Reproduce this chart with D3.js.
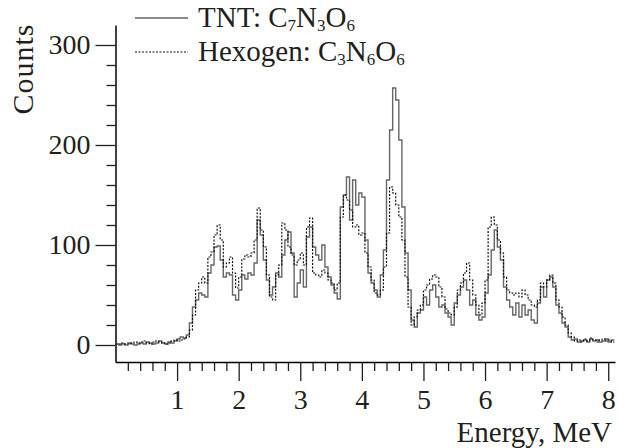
<!DOCTYPE html>
<html>
<head>
<meta charset="utf-8">
<script src="https://cdn.jsdelivr.net/npm/d3@7"></script>
<style>
  body { margin: 0; background: #fff; }
  text { font-family: "Liberation Serif", "Times New Roman", serif; fill: #231f20; }
</style>
</head>
<body>
<div id="chart"></div>
<script>
// histogram bins, 0.05 MeV wide, starting at 0 MeV
let binWidth = 0.05;

// TNT counts per bin
let tntCounts = [
  1, 0, 1, 0, 2, 1, 0, 1, 2, 1, 3, 2, 1, 2, 4, 2, 1, 3, 2, 4,
  6, 8, 7, 10, 22, 38, 45, 52, 50, 48, 72, 80, 98, 99, 85, 68, 72, 70, 50, 45,
  55, 70, 66, 72, 70, 82, 125, 110, 85, 65, 50, 58, 72, 68, 90, 105, 113, 92, 48, 62,
  75, 58, 108, 118, 98, 90, 85, 100, 78, 68, 60, 52, 46, 138, 150, 168, 125, 165, 140, 152,
  148, 105, 72, 62, 55, 48, 70, 95, 165, 215, 257, 245, 205, 138, 92, 55, 25, 18, 32, 35,
  48, 40, 55, 60, 48, 38, 40, 32, 28, 20, 42, 50, 58, 65, 55, 40, 45, 30, 25, 28,
  52, 70, 95, 115, 98, 85, 58, 45, 38, 30, 42, 28, 40, 30, 35, 25, 22, 42, 58, 48,
  65, 68, 58, 40, 32, 22, 18, 8, 5, 6, 3, 4, 5, 3, 6, 4, 5, 3, 4, 6,
  3, 5
];

// Hexogen counts per bin
let hexCounts = [
  1, 1, 2, 1, 1, 2, 3, 2, 3, 4, 2, 1, 3, 4, 3, 2, 1, 2, 4, 5,
  4, 5, 6, 8, 15, 30, 55, 62, 68, 62, 88, 93, 110, 120, 105, 78, 82, 88, 72, 57,
  68, 86, 90, 88, 92, 105, 137, 115, 98, 70, 48, 45, 70, 80, 122, 115, 98, 90, 80, 85,
  92, 80, 118, 127, 72, 70, 68, 75, 72, 65, 62, 55, 62, 128, 150, 145, 135, 118, 120, 110,
  112, 92, 78, 65, 52, 50, 55, 78, 112, 158, 152, 140, 128, 105, 68, 38, 20, 28, 35, 40,
  55, 60, 66, 70, 68, 58, 48, 36, 32, 30, 38, 55, 62, 72, 82, 65, 50, 40, 30, 42,
  65, 118, 128, 120, 105, 92, 68, 55, 52, 50, 52, 48, 55, 50, 45, 40, 38, 45, 62, 58,
  65, 70, 62, 45, 38, 28, 20, 12, 8, 4, 5, 3, 6, 4, 7, 5, 3, 5, 6, 4,
  5, 3
];

let xMajorTicks = [1, 2, 3, 4, 5, 6, 7, 8];
let yMajorTicks = [0, 100, 200, 300];

let width = 618;
let height = 448;

let svg = d3.select("#chart")
    .append("svg")
    .attr("width", width)
    .attr("height", height);

let x = d3.scaleLinear()
    .domain([0, 8.11])
    .range([115.5, 615]);

let y = d3.scaleLinear()
    .domain([-17, 320])
    .range([362, 25]);

// x axis: minor ticks every 0.2, major every 1
let xMinor = d3.range(1, 41).map(function (i) { return i * 0.2; })
    .filter(function (v) { return Math.abs(v - Math.round(v)) > 1e-6; });

svg.append("g")
    .attr("transform", "translate(0," + y(-17) + ")")
    .call(d3.axisBottom(x).tickValues(xMinor).tickSize(9).tickFormat(""))
    .call(function (g) { g.select(".domain").remove(); });

svg.append("g")
    .attr("transform", "translate(0," + y(-17) + ")")
    .call(d3.axisBottom(x).tickValues(xMajorTicks).tickSize(19).tickSizeOuter(0).tickPadding(8))
    .call(function (g) {
        g.select(".domain").attr("stroke-width", 1.5);
        g.selectAll("text").attr("font-size", 28).attr("fill", "#231f20");
    });

// y axis: minor ticks every 20, major every 100
let yMinor = d3.range(1, 15).map(function (i) { return i * 20; })
    .filter(function (v) { return v % 100 !== 0; });

svg.append("g")
    .attr("transform", "translate(" + x(0) + ",0)")
    .call(d3.axisLeft(y).tickValues(yMinor).tickSize(9).tickFormat(""))
    .call(function (g) { g.select(".domain").remove(); });

svg.append("g")
    .attr("transform", "translate(" + x(0) + ",0)")
    .call(d3.axisLeft(y).tickValues(yMajorTicks).tickSize(20).tickSizeOuter(0).tickPadding(5))
    .call(function (g) {
        g.select(".domain").attr("stroke-width", 1.5);
        g.selectAll("text").attr("font-size", 28).attr("fill", "#231f20");
    });

svg.selectAll(".tick line").attr("stroke", "#231f20").attr("stroke-width", 1.3);

// step lines
function stepPoints(counts) {
    let pts = counts.map(function (c, i) { return [i * binWidth, c]; });
    pts.push([counts.length * binWidth, counts[counts.length - 1]]);
    return pts;
}

let line = d3.line()
    .x(function (d) { return x(d[0]); })
    .y(function (d) { return y(d[1]); })
    .curve(d3.curveStepAfter);

svg.append("path")
    .attr("d", line(stepPoints(tntCounts)))
    .attr("fill", "none")
    .attr("stroke", "#666")
    .attr("stroke-width", 1.4);

svg.append("path")
    .attr("d", line(stepPoints(hexCounts)))
    .attr("fill", "none")
    .attr("stroke", "#111")
    .attr("stroke-width", 1.2)
    .attr("stroke-dasharray", "2,1.5");

// axis titles
svg.append("text")
    .attr("transform", "translate(33,69) rotate(-90)")
    .attr("text-anchor", "middle")
    .attr("font-size", 30)
    .attr("letter-spacing", 1)
    .text("Counts");

svg.append("text")
    .attr("x", 612)
    .attr("y", 442)
    .attr("text-anchor", "end")
    .attr("font-size", 29)
    .text("Energy, MeV");

// legend
let legendItems = [
    { parts: [["TNT: C", 0], ["7", 1], ["N", 0], ["3", 1], ["O", 0], ["6", 1]], dash: null, color: "#666", w: 1.4 },
    { parts: [["Hexogen: C", 0], ["3", 1], ["N", 0], ["6", 1], ["O", 0], ["6", 1]], dash: "2,1.5", color: "#111", w: 1.2 }
];

legendItems.forEach(function (item, i) {
    let ly = 18 + i * 34;
    svg.append("line")
        .attr("x1", 135).attr("x2", 188)
        .attr("y1", ly).attr("y2", ly)
        .attr("stroke", item.color)
        .attr("stroke-width", item.w)
        .attr("stroke-dasharray", item.dash);
    let t = svg.append("text")
        .attr("x", 198)
        .attr("y", ly + 9)
        .attr("font-size", 29);
    item.parts.forEach(function (p) {
        let span = t.append("tspan").text(p[0]);
        if (p[1]) {
            span.attr("font-size", 17).attr("dy", 4);
        } else if (span.node().previousSibling) {
            span.attr("dy", -4);
        }
    });
});
</script>
</body>
</html>
